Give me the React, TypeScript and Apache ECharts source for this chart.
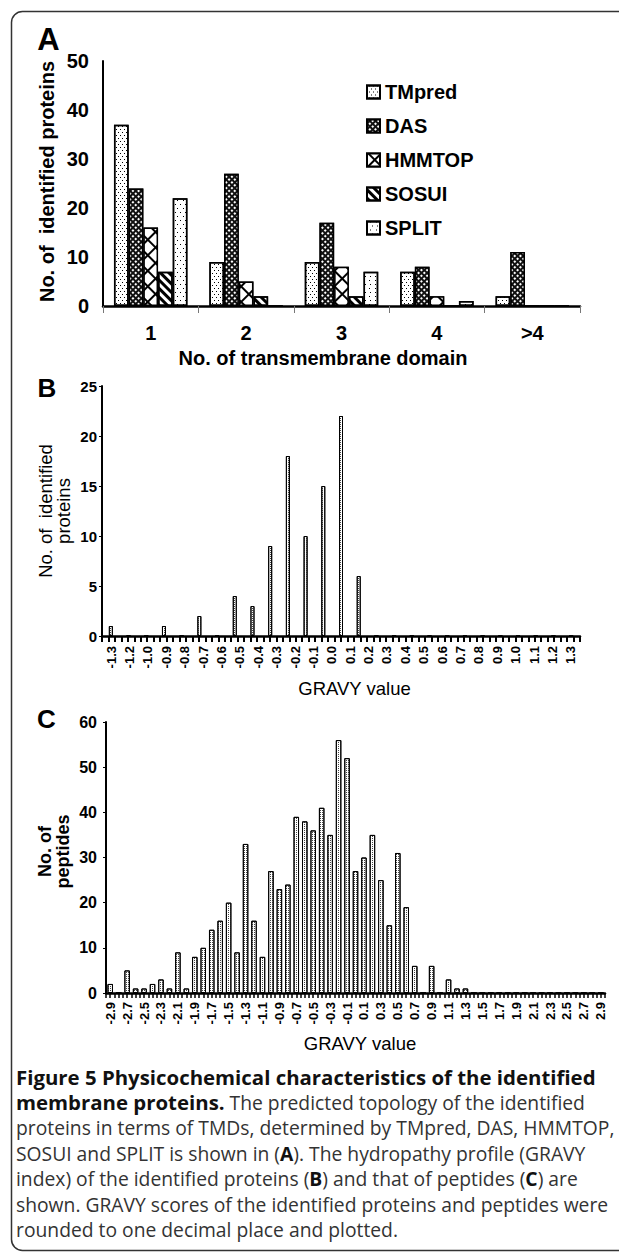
import React, { useEffect, useRef } from "react";
import * as echarts from "echarts";

// ---------- Panel A: predicted transmembrane domains ----------
const TMD_CATEGORIES = ["1", "2", "3", "4", ">4"];
const PREDICTORS = ["TMpred", "DAS", "HMMTOP", "SOSUI", "SPLIT"];
const TMPRED = [37, 9, 9, 7, 2];
const DAS = [24, 27, 17, 8, 11];
const HMMTOP = [16, 5, 8, 2, 0];
const SOSUI = [7, 2, 2, 0, 0];
const SPLIT = [22, 0, 7, 1, 0];
const A_Y_TICKS = { min: 0, max: 50, interval: 10 };

// ---------- Panel B: GRAVY of identified proteins ----------
const PROTEIN_BINS = [
  "-1.3", "-1.2", "-1.1", "-1.0", "-0.9", "-0.8", "-0.7", "-0.6", "-0.5", "-0.4",
  "-0.3", "-0.2", "-0.1", "0.0", "0.1", "0.2", "0.3", "0.4", "0.5", "0.6",
  "0.7", "0.8", "0.9", "1.0", "1.1", "1.2", "1.3",
];
const PROTEIN_COUNTS = [
  1, 0, 0, 1, 0, 2, 0, 4, 3, 9,
  18, 10, 15, 22, 6, 0, 0, 0, 0, 0,
  0, 0, 0, 0, 0, 0, 0,
];
const PROTEIN_TICK_LABELS = [
  "-1.3", "-1.2", "-1.0", "-0.9", "-0.8", "-0.7", "-0.6", "-0.5", "-0.4", "-0.3",
  "-0.2", "-0.1", "0.0", "0.1", "0.2", "0.3", "0.4", "0.5", "0.6", "0.7",
  "0.8", "0.9", "1.0", "1.1", "1.2", "1.3",
];
const B_Y_TICKS = { min: 0, max: 25, interval: 5 };

// ---------- Panel C: GRAVY of peptides ----------
const PEPTIDE_BINS = [
  "-2.9", "-2.8", "-2.7", "-2.6", "-2.5", "-2.4", "-2.3", "-2.2", "-2.1", "-2.0",
  "-1.9", "-1.8", "-1.7", "-1.6", "-1.5", "-1.4", "-1.3", "-1.2", "-1.1", "-1.0",
  "-0.9", "-0.8", "-0.7", "-0.6", "-0.5", "-0.4", "-0.3", "-0.2", "-0.1", "0.0",
  "0.1", "0.2", "0.3", "0.4", "0.5", "0.6", "0.7", "0.8", "0.9", "1.0",
  "1.1", "1.2", "1.3", "1.4", "1.5", "1.6", "1.7", "1.8", "1.9", "2.0",
  "2.1", "2.2", "2.3", "2.4", "2.5", "2.6", "2.7", "2.8", "2.9",
];
const PEPTIDE_COUNTS = [
  2, 0, 5, 1, 1, 2, 3, 1, 9, 1,
  8, 10, 14, 16, 20, 9, 33, 16, 8, 27,
  23, 24, 39, 38, 36, 41, 35, 56, 52, 27,
  30, 35, 25, 15, 31, 19, 6, 0, 6, 0,
  3, 1, 1, 0, 0, 0, 0, 0, 0, 0,
  0, 0, 0, 0, 0, 0, 0, 0, 0,
];
const C_Y_TICKS = { min: 0, max: 60, interval: 10 };

// ---------- Caption ----------
const CAPTION_LINES = [
  "{b|Figure 5 Physicochemical characteristics of the identified}",
  "{b|membrane proteins.}{n| The predicted topology of the identified}",
  "{n|proteins in terms of TMDs, determined by TMpred, DAS, HMMTOP,}",
  "{n|SOSUI and SPLIT is shown in (}{bs|A}{n|). The hydropathy profile (GRAVY}",
  "{n|index) of the identified proteins (}{bs|B}{n|) and that of peptides (}{bs|C}{n|) are}",
  "{n|shown. GRAVY scores of the identified proteins and peptides were}",
  "{n|rounded to one decimal place and plotted.}",
];

const FONT = '"Liberation Sans", Arial, Helvetica, sans-serif';
const NARROW = '"Liberation Sans Narrow", "Arial Narrow", "Liberation Sans", Arial, sans-serif';
const CAPTION_FONT = '"Open Sans", "Noto Sans", sans-serif';

const FILLS: Record<string, string> = {
  TMpred: "#fff", DAS: "#111", HMMTOP: "#000", SOSUI: "#fff", SPLIT: "#fff",
};
const DECALS: Record<string, any> = {
  TMpred: {
    symbol: "rect", symbolSize: 1, color: "#000",
    dashArrayX: [[1, 3], [0, 2, 1, 1]], dashArrayY: [1, 2], rotation: 0,
  },
  DAS: {
    symbol: "rect", symbolSize: 1, color: "#fff",
    dashArrayX: [1.4, 1.4], dashArrayY: [1.4, 1.4], rotation: Math.PI / 4,
  },
  HMMTOP: {
    symbol: "rect", symbolSize: 1, color: "#fff",
    dashArrayX: [8.5, 1.3], dashArrayY: [8.5, 1.3], rotation: Math.PI / 4,
  },
  SOSUI: {
    symbol: "rect", symbolSize: 1, color: "#000",
    dashArrayX: [1, 0], dashArrayY: [2.2, 2.2], rotation: Math.PI / 4,
  },
  SPLIT: {
    symbol: "rect", symbolSize: 1, color: "#000",
    dashArrayX: [[1, 4], [0, 2.5, 1, 1.5]], dashArrayY: [1, 3], rotation: 0,
  },
};
const STIPPLE = {
  symbol: "rect", symbolSize: 1, color: "#444",
  dashArrayX: [1, 1], dashArrayY: [1, 1], rotation: 0,
};

function centeredText(text: string, x: number, y: number, size: number, weight: string, rotation = 0, family = FONT, lineHeight?: number) {
  return {
    type: "text",
    x,
    y,
    rotation,
    silent: true,
    style: {
      text,
      fontSize: size,
      fontWeight: weight,
      fontFamily: family,
      fill: "#000",
      align: "center",
      verticalAlign: "middle",
      textAlign: "center",
      textVerticalAlign: "middle",
      lineHeight,
    },
  };
}

export default function App() {
  const ref = useRef<HTMLDivElement>(null);

  useEffect(() => {
    document.body.style.margin = "0";
    if (!ref.current) return;
    const chart = echarts.init(ref.current, undefined, { renderer: "svg" });

    const blackLine = (w: number) => ({ show: true, lineStyle: { color: "#000", width: w } });
    const predictorData = [TMPRED, DAS, HMMTOP, SOSUI, SPLIT];

    const option: any = {
      animation: false,
      backgroundColor: "#fff",
      textStyle: { fontFamily: FONT },
      grid: [
        { left: 103, top: 61, width: 477, height: 245 },
        { left: 102, top: 386, width: 478, height: 250 },
        { left: 106, top: 722, width: 499, height: 271 },
      ],
      legend: {
        orient: "vertical",
        left: 366,
        top: 82,
        padding: 0,
        itemWidth: 13,
        itemHeight: 13,
        itemGap: 14,
        icon: "rect",
        selectedMode: false,
        data: PREDICTORS,
        textStyle: { fontSize: 20, fontWeight: "bold", color: "#000", fontFamily: FONT },
      },
      xAxis: [
        {
          type: "category", gridIndex: 0, data: TMD_CATEGORIES,
          axisLine: blackLine(2.5),
          axisTick: { show: true, interval: 0, length: 7, lineStyle: { color: "#777", width: 1 } },
          axisLabel: { fontSize: 20, fontWeight: "bold", color: "#000", margin: 17, fontFamily: FONT },
        },
        {
          type: "category", gridIndex: 1, data: PROTEIN_BINS,
          axisLine: blackLine(2.5), axisTick: { show: false }, axisLabel: { show: false },
        },
        {
          type: "category", gridIndex: 1, data: PROTEIN_TICK_LABELS, position: "bottom",
          axisLine: { show: false }, axisTick: { show: false },
          axisLabel: { rotate: 90, interval: 0, fontSize: 13, fontWeight: "bold", color: "#000", margin: 10, fontFamily: FONT },
        },
        {
          type: "value", gridIndex: 1, min: 0, max: 74, interval: 1, position: "bottom",
          axisLine: { show: false, onZero: false }, splitLine: { show: false }, axisLabel: { show: false },
          axisTick: { show: true, length: 6, lineStyle: { color: "#000", width: 2 } },
        },
        {
          type: "category", gridIndex: 2, data: PEPTIDE_BINS,
          axisLine: blackLine(2.5), axisTick: { show: false },
          axisLabel: { rotate: 90, interval: 1, fontSize: 13, fontWeight: "bold", color: "#000", margin: 9, fontFamily: FONT },
        },
        {
          type: "value", gridIndex: 2, min: 0, max: 118, interval: 1, position: "bottom",
          axisLine: { show: false, onZero: false }, splitLine: { show: false }, axisLabel: { show: false },
          axisTick: { show: true, length: 5, lineStyle: { color: "#000", width: 1.5 } },
        },
      ],
      yAxis: [
        {
          type: "value", gridIndex: 0, ...A_Y_TICKS,
          axisLine: blackLine(2), axisTick: { show: false }, splitLine: { show: false },
          axisLabel: { fontSize: 20, fontWeight: "bold", color: "#000", margin: 14, fontFamily: FONT },
        },
        {
          type: "value", gridIndex: 1, ...B_Y_TICKS,
          axisLine: blackLine(2), axisTick: { show: true, length: 3, lineStyle: { color: "#000" } }, splitLine: { show: false },
          axisLabel: { fontSize: 15, fontWeight: "bold", color: "#000", margin: 5, fontFamily: NARROW },
        },
        {
          type: "value", gridIndex: 2, ...C_Y_TICKS,
          axisLine: blackLine(2), axisTick: { show: true, length: 3, lineStyle: { color: "#000" } }, splitLine: { show: false },
          axisLabel: { fontSize: 16, fontWeight: "bold", color: "#000", margin: 9, fontFamily: NARROW },
        },
      ],
      series: [
        ...PREDICTORS.map((name, i) => ({
          name,
          type: "bar",
          xAxisIndex: 0,
          yAxisIndex: 0,
          data: predictorData[i],
          barGap: "0%",
          barCategoryGap: "23%",
          itemStyle: { color: FILLS[name], borderColor: "#000", borderWidth: 1.5, decal: DECALS[name] },
        })),
        {
          type: "bar",
          xAxisIndex: 1,
          yAxisIndex: 1,
          data: PROTEIN_COUNTS,
          barWidth: 4,
          itemStyle: { color: "#fff", borderColor: "#000", borderWidth: 1, decal: STIPPLE },
        },
        {
          type: "bar",
          xAxisIndex: 4,
          yAxisIndex: 2,
          data: PEPTIDE_COUNTS,
          barWidth: 5.5,
          itemStyle: { color: "#fff", borderColor: "#000", borderWidth: 1, decal: STIPPLE },
        },
      ],
      graphic: [
        {
          type: "rect",
          silent: true,
          shape: { x: 11.5, y: 11.5, width: 640, height: 1239, r: 11 },
          style: { fill: "none", stroke: "#333", lineWidth: 1.5 },
        },
        centeredText("A", 48.5, 39, 31, "bold"),
        centeredText("B", 47, 388, 26, "bold"),
        centeredText("C", 46.5, 719, 26, "bold"),
        centeredText("No. of  identified proteins", 47, 181.5, 20, "bold", Math.PI / 2),
        centeredText("No. of transmembrane domain", 323, 358, 20, "bold"),
        centeredText("No. of  identified\nproteins", 54, 511, 18.5, "normal", Math.PI / 2, FONT, 18),
        centeredText("GRAVY value", 354.5, 688, 18.5, "normal"),
        centeredText("No. of\npeptides", 54, 851.5, 18, "bold", Math.PI / 2, FONT, 18),
        centeredText("GRAVY value", 360, 1043, 18.5, "normal"),
        {
          type: "text",
          x: 16,
          y: 1064,
          silent: true,
          style: {
            text: CAPTION_LINES.join("\n"),
            align: "left",
            verticalAlign: "top",
            textAlign: "left",
            textVerticalAlign: "top",
            fill: "#222",
            fontFamily: CAPTION_FONT,
            fontSize: 19.3,
            rich: {
              b: { fontFamily: CAPTION_FONT, fontSize: 20.4, fontWeight: "bold", lineHeight: 25.5, fill: "#111" },
              bs: { fontFamily: CAPTION_FONT, fontSize: 19.3, fontWeight: "bold", lineHeight: 25.5, fill: "#111" },
              n: { fontFamily: CAPTION_FONT, fontSize: 19.3, fontWeight: "normal", lineHeight: 25.5, fill: "#333" },
            },
          },
        },
      ],
    };

    chart.setOption(option);
    return () => chart.dispose();
  }, []);

  return <div ref={ref} style={{ width: 619, height: 1253 }} />;
}
